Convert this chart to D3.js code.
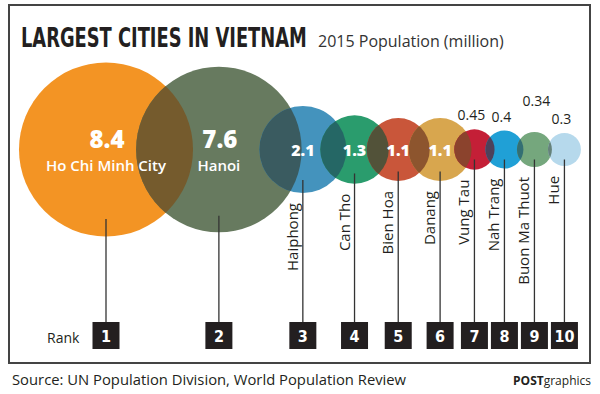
<!DOCTYPE html>
<html>
<head>
<meta charset="utf-8">
<title>Largest cities in Vietnam</title>
<script src="https://cdn.jsdelivr.net/npm/d3@7"></script>
<style>
  body { margin: 0; background: #fff; }
  text { font-family: "Open Sans", "Noto Sans", sans-serif; }
</style>
</head>
<body>
<div id="chart"></div>
<script>
// values
var cities = ["Ho Chi Minh City", "Hanoi", "Haiphong", "Can Tho", "Bien Hoa",
              "Danang", "Vung Tau", "Nah Trang", "Buon Ma Thuot", "Hue"];
var population = [8.4, 7.6, 2.1, 1.3, 1.1, 1.1, 0.45, 0.4, 0.34, 0.3];
var ranks = [1, 2, 3, 4, 5, 6, 7, 8, 9, 10];
var cityColors = ["#f39424", "#677a5f", "#4493bd", "#2a9c6d", "#c9563a",
                  "#d8a64e", "#c41f37", "#20a0d6", "#75a77d", "#b6d9ec"];
// "in": value and name inside, "mid": value inside,
// "out": value above, "up": value above and raised clear of its neighbour
var labelMode = ["in", "in", "mid", "mid", "mid", "mid", "out", "out", "up", "out"];

var W = 600, H = 394;
var CY = 149.5;       // circles share one centre line
var BOX = 27, BOXY = 322, BOXSTEP = 30;

var svg = d3.select("#chart").append("svg")
  .attr("width", W).attr("height", H);

// frame
svg.append("rect")
  .attr("x", 9).attr("y", 5).attr("width", 581).attr("height", 358)
  .attr("fill", "none").attr("stroke", "#444").attr("stroke-width", 2);

// title, squeezed to the width of the original condensed face
var title = svg.append("text")
  .style("font-family", '"Liberation Sans Narrow", "DejaVu Sans Condensed", sans-serif')
  .style("font-weight", "bold").style("font-size", "26px")
  .attr("fill", "#231f20")
  .text("LARGEST CITIES IN VIETNAM");
var tw = title.node().getComputedTextLength();
title.attr("transform", "translate(21,47) scale(" + (286 / tw) + ",1)");

svg.append("text")
  .attr("x", 318).attr("y", 47)
  .style("font-size", "16px").attr("fill", "#333")
  .text("2015 Population (million)");

// area of a circle ~ population
var r = d3.scaleSqrt().domain([0, d3.max(population)]).range([0, 87]);

// pack the circles left to right, each one overlapping the last,
// but never closer than a rank box needs
var step = [0];
population.forEach(function(v, i) {
  if (i > 0) step.push(step[i - 1] + Math.max(BOXSTEP, 0.665 * (r(population[i - 1]) + r(v))));
});
var x = d3.scaleLinear().domain([0, 1]).range([106, 107]);
var cx = step.map(function(s) { return x(s); });

var defs = svg.append("defs");
population.forEach(function(v, i) {
  defs.append("clipPath").attr("id", "clip-" + i)
    .append("circle").attr("cx", cx[i]).attr("cy", CY).attr("r", r(v));
});

// circles
var gCircles = svg.append("g");
gCircles.selectAll("circle.city")
  .data(population)
  .enter().append("circle")
  .attr("class", "city")
  .attr("cx", function(d, i) { return cx[i]; })
  .attr("cy", CY)
  .attr("r", function(d) { return r(d); })
  .attr("fill", function(d, i) { return cityColors[i]; });

// darker lens where two neighbours overlap
population.forEach(function(v, i) {
  if (i == 0) return;
  var mix = d3.rgb(d3.interpolateRgb(cityColors[i - 1], cityColors[i])(0.5)).darker(1.1);
  gCircles.append("circle")
    .attr("cx", cx[i]).attr("cy", CY).attr("r", r(v))
    .attr("clip-path", "url(#clip-" + (i - 1) + ")")
    .attr("fill", mix);
});

// leader lines down to the rank boxes
svg.append("g").selectAll("line")
  .data(population)
  .enter().append("line")
  .attr("x1", function(d, i) { return cx[i]; })
  .attr("x2", function(d, i) { return cx[i]; })
  .attr("y1", function(d, i) {
    if (labelMode[i] == "in") return CY + 0.8 * r(d);
    if (labelMode[i] == "mid") return CY + 0.7 * r(d);
    return CY + 10;
  })
  .attr("y2", BOXY)
  .attr("stroke", "#333").attr("stroke-width", 1.3);

// rank boxes
var gRank = svg.append("g");
ranks.forEach(function(rk, i) {
  gRank.append("rect")
    .attr("x", cx[i] - BOX / 2).attr("y", BOXY)
    .attr("width", BOX).attr("height", BOX)
    .attr("fill", "#231f20");
  gRank.append("text")
    .attr("x", cx[i]).attr("y", BOXY + 19.5)
    .attr("text-anchor", "middle")
    .style("font-family", '"DejaVu Sans Condensed", "DejaVu Sans", sans-serif')
    .style("font-stretch", "condensed")
    .style("font-weight", "bold").style("font-size", "16px")
    .attr("fill", "#fff")
    .text(rk);
});
svg.append("text")
  .attr("x", 47).attr("y", 343)
  .style("font-size", "14px").attr("fill", "#231f20")
  .text("Rank");

// labels
var gLab = svg.append("g");
population.forEach(function(v, i) {
  var rad = r(v);
  var mode = labelMode[i];
  if (mode == "in") {
    gLab.append("text")
      .attr("x", cx[i] + 1).attr("y", CY - 2)
      .attr("text-anchor", "middle")
      .style("font-weight", "800").style("font-size", "24px")
      .attr("fill", "#fff")
      .text(v);
    gLab.append("text")
      .attr("x", cx[i]).attr("y", CY + 21)
      .attr("text-anchor", "middle")
      .style("font-weight", "600").style("font-size", "15px")
      .attr("fill", "#fff")
      .text(cities[i]);
    return;
  }
  if (mode == "mid") {
    gLab.append("text")
      .attr("x", cx[i]).attr("y", CY + 6.5)
      .attr("text-anchor", "middle")
      .style("font-weight", "800").style("font-size", "16px")
      .attr("fill", "#fff")
      .text(v);
  } else {
    gLab.append("text")
      .attr("x", mode == "up" ? cx[i] + 2 : cx[i] - 3)
      .attr("y", CY - rad - (mode == "up" ? 26 : 9))
      .attr("text-anchor", "middle")
      .style("font-size", "14px")
      .attr("fill", "#231f20")
      .text(v);
  }
  // name runs up the leader line
  gLab.append("text")
    .attr("transform", "translate(" + (cx[i] - 5) + "," + (CY + rad + 10) + ") rotate(-90)")
    .attr("text-anchor", "end")
    .style("font-size", "15px")
    .attr("fill", "#231f20")
    .text(cities[i]);
});

// footer
svg.append("text")
  .attr("x", 12).attr("y", 385)
  .style("font-size", "14.8px").attr("fill", "#231f20")
  .text("Source: UN Population Division, World Population Review");

var credit = svg.append("text")
  .attr("x", 591).attr("y", 385)
  .attr("text-anchor", "end")
  .style("font-size", "12px").attr("fill", "#231f20");
credit.append("tspan").style("font-weight", "bold").text("POST");
credit.append("tspan").text("graphics");
</script>
</body>
</html>
